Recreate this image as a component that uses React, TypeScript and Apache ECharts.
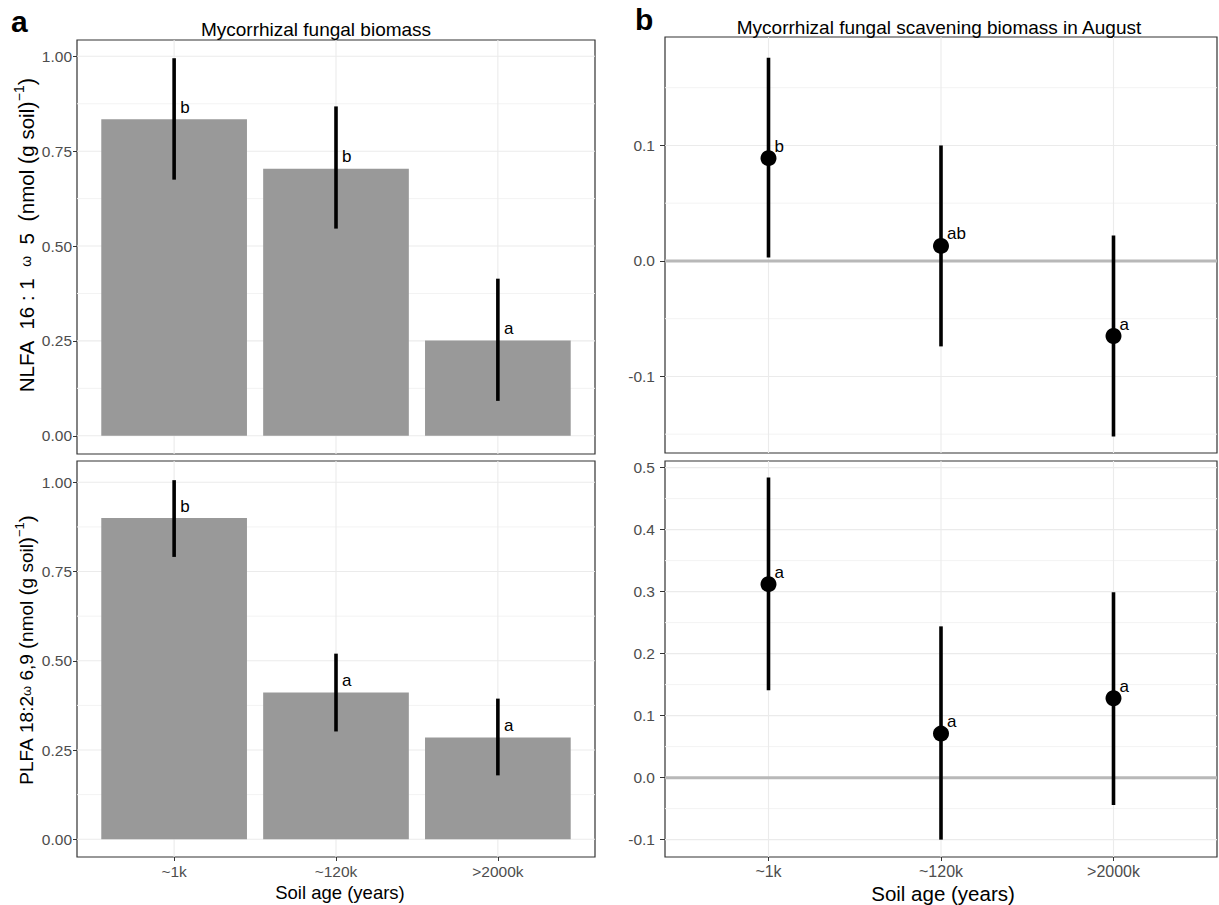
import React, { useEffect, useRef } from 'react';
import * as echarts from 'echarts';

const categories = ['~1k', '~120k', '>2000k'];
const catPos = [1, 2, 3];

const nlfaMean = [0.834, 0.704, 0.251];
const nlfaLow = [0.675, 0.546, 0.092];
const nlfaHigh = [0.995, 0.868, 0.414];
const nlfaLetters = ['b', 'b', 'a'];

const plfaMean = [0.9, 0.411, 0.285];
const plfaLow = [0.791, 0.302, 0.179];
const plfaHigh = [1.006, 0.52, 0.394];
const plfaLetters = ['b', 'a', 'a'];

const scavNlfaMean = [0.089, 0.013, -0.065];
const scavNlfaLow = [0.003, -0.074, -0.152];
const scavNlfaHigh = [0.176, 0.1, 0.022];
const scavNlfaLetters = ['b', 'ab', 'a'];

const scavPlfaMean = [0.312, 0.071, 0.128];
const scavPlfaLow = [0.141, -0.1, -0.044];
const scavPlfaHigh = [0.484, 0.244, 0.299];
const scavPlfaLetters = ['a', 'a', 'a'];

const barTicks = [0, 0.25, 0.5, 0.75, 1.0];
const barMinor = [0.125, 0.375, 0.625, 0.875];
const scavNlfaTicks = [-0.1, 0, 0.1];
const scavNlfaMinor = [-0.15, -0.05, 0.05, 0.15];
const scavPlfaTicks = [-0.1, 0, 0.1, 0.2, 0.3, 0.4, 0.5];
const scavPlfaMinor = [-0.05, 0.05, 0.15, 0.25, 0.35, 0.45];
const zeroLine = [0];

const FONT = "'Liberation Sans', Arial, Helvetica, sans-serif";
const X_MIN = 0.4;
const X_MAX = 3.6;
const NB = '\u00a0';

type Panel = {
  grid: { left: number; top: number; width: number; height: number };
  yMin: number;
  yMax: number;
  ticks: number[];
  minor: number[];
  decimals: number;
  showX: boolean;
};

const panels: Panel[] = [
  { grid: { left: 77, top: 40, width: 518, height: 414 }, yMin: -0.048, yMax: 1.043, ticks: barTicks, minor: barMinor, decimals: 2, showX: false },
  { grid: { left: 77, top: 461, width: 518, height: 396 }, yMin: -0.0497, yMax: 1.0597, ticks: barTicks, minor: barMinor, decimals: 2, showX: true },
  { grid: { left: 665, top: 37, width: 552, height: 416 }, yMin: -0.1663, yMax: 0.1939, ticks: scavNlfaTicks, minor: scavNlfaMinor, decimals: 1, showX: false },
  { grid: { left: 665, top: 461, width: 552, height: 396 }, yMin: -0.128, yMax: 0.5107, ticks: scavPlfaTicks, minor: scavPlfaMinor, decimals: 1, showX: true },
];

function hLines(idx: number, values: number[], color: string, width: number, z: number) {
  return {
    type: 'custom',
    xAxisIndex: idx,
    yAxisIndex: idx,
    z,
    silent: true,
    data: values.map((v) => [X_MIN, v]),
    renderItem: (_p: any, api: any) => {
      const v = api.value(1);
      const a = api.coord([X_MIN, v]);
      const b = api.coord([X_MAX, v]);
      return { type: 'line', shape: { x1: a[0], y1: a[1], x2: b[0], y2: b[1] }, style: { stroke: color, lineWidth: width } };
    },
  };
}

function vLines(idx: number, yMin: number, yMax: number) {
  return {
    type: 'custom',
    xAxisIndex: idx,
    yAxisIndex: idx,
    z: 1,
    silent: true,
    data: catPos.map((c) => [c, 0]),
    renderItem: (_p: any, api: any) => {
      const c = api.value(0);
      const a = api.coord([c, yMin]);
      const b = api.coord([c, yMax]);
      return { type: 'line', shape: { x1: a[0], y1: a[1], x2: b[0], y2: b[1] }, style: { stroke: '#ebebeb', lineWidth: 1.1 } };
    },
  };
}

function bars(idx: number, mean: number[]) {
  return {
    type: 'custom',
    xAxisIndex: idx,
    yAxisIndex: idx,
    z: 2,
    silent: true,
    data: catPos.map((c, i) => [c, mean[i]]),
    renderItem: (_p: any, api: any) => {
      const x = api.value(0);
      const y = api.value(1);
      const a = api.coord([x - 0.45, y]);
      const b = api.coord([x + 0.45, 0]);
      return { type: 'rect', shape: { x: a[0], y: a[1], width: b[0] - a[0], height: b[1] - a[1] }, style: { fill: '#999999' } };
    },
  };
}

function errorBars(idx: number, low: number[], high: number[]) {
  return {
    type: 'custom',
    xAxisIndex: idx,
    yAxisIndex: idx,
    z: 4,
    silent: true,
    data: catPos.map((c, i) => [c, low[i], high[i]]),
    renderItem: (_p: any, api: any) => {
      const x = api.value(0);
      const a = api.coord([x, api.value(1)]);
      const b = api.coord([x, api.value(2)]);
      return { type: 'line', shape: { x1: a[0], y1: a[1], x2: b[0], y2: b[1] }, style: { stroke: '#000', lineWidth: 3.6 } };
    },
  };
}

function letters(idx: number, mean: number[], labels: string[]) {
  return {
    type: 'custom',
    xAxisIndex: idx,
    yAxisIndex: idx,
    z: 6,
    silent: true,
    data: catPos.map((c, i) => [c, mean[i]]),
    renderItem: (p: any, api: any) => {
      const pt = api.coord([api.value(0), api.value(1)]);
      return {
        type: 'text',
        x: pt[0] + 6,
        y: pt[1] - 12,
        style: { text: labels[p.dataIndex], fill: '#000', fontSize: 17, fontFamily: FONT, align: 'left', verticalAlign: 'middle' },
      };
    },
  };
}

function points(idx: number, mean: number[]) {
  return {
    type: 'scatter',
    xAxisIndex: idx,
    yAxisIndex: idx,
    z: 5,
    silent: true,
    symbol: 'circle',
    symbolSize: 16,
    itemStyle: { color: '#000', opacity: 1 },
    data: catPos.map((c, i) => [c, mean[i]]),
  };
}

function buildOption() {
  const grid = panels.map((p) => ({ ...p.grid, show: true, borderColor: '#333333', borderWidth: 1.2, backgroundColor: 'transparent' }));
  const xAxis = panels.map((p, i) => ({
    gridIndex: i,
    type: 'value',
    min: X_MIN,
    max: X_MAX,
    axisLine: { show: false, onZero: false },
    splitLine: { show: false },
    axisTick: { show: p.showX, customValues: catPos, length: 4, lineStyle: { color: '#333333', width: 1 } },
    axisLabel: {
      show: p.showX,
      customValues: catPos,
      formatter: (v: number) => categories[Math.round(v) - 1] ?? '',
      color: '#4d4d4d',
      fontSize: i < 2 ? 15.5 : 16,
      fontFamily: FONT,
      margin: 6,
    },
  }));
  const yAxis = panels.map((p, i) => ({
    gridIndex: i,
    type: 'value',
    min: p.yMin,
    max: p.yMax,
    axisLine: { show: false, onZero: false },
    splitLine: { show: false },
    axisTick: { show: true, customValues: p.ticks, length: i < 2 ? 4 : 5, lineStyle: { color: '#333333', width: 1 } },
    axisLabel: {
      customValues: p.ticks,
      formatter: (v: number) => v.toFixed(p.decimals),
      color: '#4d4d4d',
      fontSize: 15.5,
      fontFamily: FONT,
      margin: i < 2 ? 5 : 10,
    },
  }));

  const series: any[] = [];
  panels.forEach((p, i) => {
    series.push(hLines(i, p.minor, '#f3f3f3', 1, 1));
    series.push(hLines(i, p.ticks, '#ebebeb', 1.1, 1));
    series.push(vLines(i, p.yMin, p.yMax));
  });
  series.push(bars(0, nlfaMean), errorBars(0, nlfaLow, nlfaHigh), letters(0, nlfaMean, nlfaLetters));
  series.push(bars(1, plfaMean), errorBars(1, plfaLow, plfaHigh), letters(1, plfaMean, plfaLetters));
  series.push(hLines(2, zeroLine, '#b8b8b8', 3, 2), errorBars(2, scavNlfaLow, scavNlfaHigh), points(2, scavNlfaMean), letters(2, scavNlfaMean, scavNlfaLetters));
  series.push(hLines(3, zeroLine, '#b8b8b8', 3, 2), errorBars(3, scavPlfaLow, scavPlfaHigh), points(3, scavPlfaMean), letters(3, scavPlfaMean, scavPlfaLetters));

  const rich1 = {
    t: { fontSize: 20.5, fontFamily: FONT, fill: '#000', lineHeight: 28 },
    w: { fontSize: 14, fontFamily: FONT, fill: '#000', lineHeight: 28 },
    p: { fontSize: 22.5, fontFamily: FONT, fill: '#000', lineHeight: 28 },
    s: { fontSize: 14, fontFamily: FONT, fill: '#000', lineHeight: 16, verticalAlign: 'top' },
  };
  const rich2 = {
    t: { fontSize: 19, fontFamily: FONT, fill: '#000', lineHeight: 26 },
    w: { fontSize: 13, fontFamily: FONT, fill: '#000', lineHeight: 26 },
    p: { fontSize: 21, fontFamily: FONT, fill: '#000', lineHeight: 26 },
    s: { fontSize: 13, fontFamily: FONT, fill: '#000', lineHeight: 15, verticalAlign: 'top' },
  };

  const label1 =
    `{t|NLFA${NB}${NB}16${NB}:${NB}1${NB}${NB}}{w|ω}{t|${NB}${NB}5${NB}${NB}}` +
    `{p|(}{t|nmol${NB}}{p|(}{t|g${NB}soil}{p|)}{s|−1}{p|)}`;
  const label2 =
    `{t|PLFA${NB}18:2}{w|ω}{t|${NB}6,9${NB}}{p|(}{t|nmol${NB}}{p|(}{t|g${NB}soil}{p|)}{s|−1}{p|)}`;

  const graphic = [
    { type: 'text', left: 11, top: 6, style: { text: 'a', fontSize: 30, fontWeight: 'bold', fontFamily: FONT, fill: '#000' } },
    { type: 'text', left: 635, top: 4, style: { text: 'b', fontSize: 30, fontWeight: 'bold', fontFamily: FONT, fill: '#000' } },
    { type: 'text', x: 316, y: 29, style: { text: 'Mycorrhizal fungal biomass', fontSize: 19, fontFamily: FONT, fill: '#000', align: 'center', verticalAlign: 'middle' } },
    { type: 'text', x: 939, y: 27, style: { text: 'Mycorrhizal fungal scavening biomass in August', fontSize: 19, fontFamily: FONT, fill: '#000', align: 'center', verticalAlign: 'middle' } },
    { type: 'text', x: 340, y: 892, style: { text: 'Soil age (years)', fontSize: 18.5, fontFamily: FONT, fill: '#000', align: 'center', verticalAlign: 'middle' } },
    { type: 'text', x: 943, y: 893, style: { text: 'Soil age (years)', fontSize: 20.5, fontFamily: FONT, fill: '#000', align: 'center', verticalAlign: 'middle' } },
    {
      type: 'text', x: 26, y: 235, rotation: Math.PI / 2,
      style: { text: label1, rich: rich1, align: 'center', verticalAlign: 'middle' },
    },
    {
      type: 'text', x: 26, y: 650, rotation: Math.PI / 2,
      style: { text: label2, rich: rich2, align: 'center', verticalAlign: 'middle' },
    },
  ];

  return { animation: false, backgroundColor: '#ffffff', grid, xAxis, yAxis, series, graphic };
}

export default function App() {
  const ref = useRef<HTMLDivElement>(null);
  useEffect(() => {
    if (!ref.current) return;
    const chart = echarts.init(ref.current, null, { renderer: 'svg' });
    chart.setOption(buildOption() as any);
    return () => chart.dispose();
  }, []);
  return <div ref={ref} style={{ position: 'absolute', left: 0, top: 0, width: 1219, height: 905, background: '#fff' }} />;
}
